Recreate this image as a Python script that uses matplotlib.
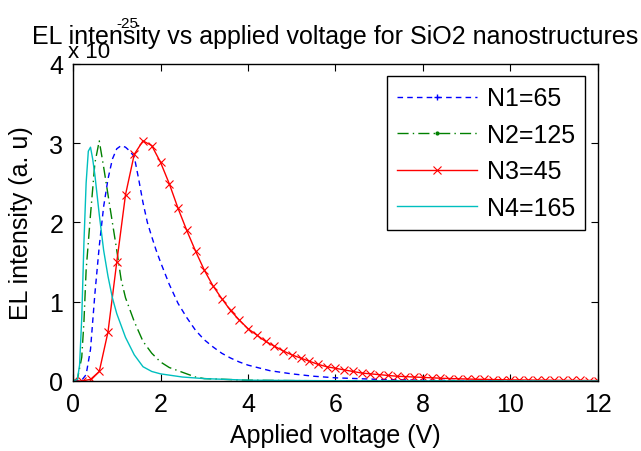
import numpy as np
import matplotlib
matplotlib.use("Agg")
import matplotlib.pyplot as plt
from matplotlib.lines import Line2D

plt.rcParams['font.family'] = ['Liberation Sans', 'DejaVu Sans']

# Values are in units of 1e-25 (a.u.)
x_n1 = [0.0, 0.2, 0.3, 0.4, 0.5, 0.6, 0.7, 0.8, 0.9, 1.0, 1.1, 1.2, 1.3, 1.4, 1.5,
        1.6, 1.7, 1.8, 1.9, 2.0, 2.2, 2.4, 2.6, 2.8, 3.0, 3.2, 3.4, 3.6, 3.8, 4.0,
        4.5, 5.0, 5.5, 6.0, 7.0, 8.0, 9.0, 10.0, 12.0]
y_n1 = [0.0, 0.01, 0.08, 0.40, 1.10, 1.70, 2.20, 2.55, 2.80, 2.93, 2.97, 2.95, 2.90, 2.83, 2.55,
        2.25, 2.00, 1.82, 1.65, 1.50, 1.22, 0.98, 0.80, 0.64, 0.52, 0.43, 0.35, 0.29, 0.24, 0.20,
        0.13, 0.09, 0.06, 0.04, 0.02, 0.01, 0.005, 0.003, 0.001]

x_n2 = [0.0, 0.1, 0.2, 0.25, 0.3, 0.4, 0.5, 0.6, 0.7, 0.8, 0.9, 1.0, 1.1, 1.2, 1.4,
        1.6, 1.8, 2.0, 2.2, 2.4, 2.6, 2.8, 3.0, 3.5, 4.0, 5.0, 6.0, 12.0]
y_n2 = [0.0, 0.02, 0.30, 0.75, 1.40, 2.10, 2.75, 3.03, 2.70, 2.35, 2.00, 1.65, 1.28, 1.05, 0.75,
        0.50, 0.35, 0.24, 0.17, 0.13, 0.09, 0.05, 0.03, 0.02, 0.01, 0.005, 0.002, 0.0]

x_n3 = list(np.round(np.linspace(0, 12, 61), 1))
y_n3 = [0.0, 0.0, 0.02, 0.12, 0.62, 1.50, 2.35, 2.86, 3.03, 2.97,
        2.76, 2.49, 2.18, 1.90, 1.64, 1.40, 1.20, 1.04, 0.89, 0.77,
        0.66, 0.58, 0.50, 0.44, 0.38, 0.33, 0.29, 0.25, 0.21, 0.18,
        0.16, 0.14, 0.12, 0.10, 0.09, 0.08, 0.07, 0.06, 0.055, 0.05,
        0.045, 0.04, 0.035, 0.031, 0.028, 0.025, 0.022, 0.020, 0.018, 0.016,
        0.014, 0.013, 0.012, 0.011, 0.010, 0.009, 0.008, 0.007, 0.007, 0.006,
        0.006]

x_n4 = [0.0, 0.1, 0.15, 0.2, 0.25, 0.3, 0.35, 0.4, 0.45, 0.5, 0.6, 0.7, 0.8, 0.9, 1.0,
        1.2, 1.4, 1.6, 1.8, 2.0, 2.5, 3.0, 4.0, 6.0, 12.0]
y_n4 = [0.0, 0.02, 0.20, 0.80, 1.75, 2.50, 2.90, 2.95, 2.80, 2.60, 2.10, 1.65, 1.32, 1.05, 0.85,
        0.55, 0.33, 0.18, 0.12, 0.09, 0.05, 0.03, 0.01, 0.003, 0.0]

labels = ["N1=65", "N2=125", "N3=45", "N4=165"]
x_ticks = [0, 2, 4, 6, 8, 10, 12]
y_ticks = [0, 1, 2, 3, 4]

FS = 18

fig = plt.figure(figsize=(6.41, 4.52), dpi=100)
ax = fig.add_axes([0.1139, 0.1549, 0.8190, 0.7013])

c_blue, c_green, c_red, c_cyan = '#0000ff', '#008000', '#ff0000', '#00bfbf'
lw = 1.0
ax.plot(x_n1, y_n1, color=c_blue, lw=lw, linestyle=(0, (4, 3)))
ax.plot(x_n2, y_n2, color=c_green, lw=lw, linestyle=(0, (8, 3, 1, 3)))
ax.plot(x_n3, y_n3, color=c_red, lw=lw, marker='x', markersize=6, mew=0.8)
ax.plot(x_n4, y_n4, color=c_cyan, lw=lw)

ax.set_xlim(0, 12)
ax.set_ylim(0, 4)
ax.set_xticks(x_ticks)
ax.set_yticks(y_ticks)
ax.tick_params(axis='both', direction='in', top=True, right=True, labelsize=FS,
               length=5, width=0.8)
ax.tick_params(axis='x', pad=8)
ax.tick_params(axis='y', pad=7)
for s in ax.spines.values():
    s.set_linewidth(1.0)

ax.set_xlabel("Applied voltage (V)", fontsize=FS, labelpad=5)
ax.set_ylabel("EL intensity (a. u)", fontsize=FS, labelpad=12)
ax.set_title("EL intensity vs applied voltage for SiO2 nanostructures", fontsize=FS, pad=15)
fig.text(68 / 641, 1 - 58 / 452, "x 10", fontsize=16, ha='left', va='baseline')
fig.text(116 / 641, 1 - 28 / 452, "-25", fontsize=11, ha='left', va='baseline')

handles = [
    Line2D([], [], color=c_blue, lw=lw, linestyle=(0, (4, 3)), marker='+', markersize=4),
    Line2D([], [], color=c_green, lw=lw, linestyle=(0, (8, 3, 1, 3)), marker='.', markersize=4),
    Line2D([], [], color=c_red, lw=lw, marker='x', markersize=6, mew=0.8),
    Line2D([], [], color=c_cyan, lw=lw),
]
leg = ax.legend(handles, labels, loc='upper right', fontsize=FS, handlelength=3.2,
                frameon=True, fancybox=False, edgecolor='black', framealpha=1,
                borderaxespad=0.5, labelspacing=0.5, handletextpad=0.4,
                borderpad=0.4, numpoints=1)
leg.get_frame().set_linewidth(1.0)

fig.savefig("out.png", dpi=100)
